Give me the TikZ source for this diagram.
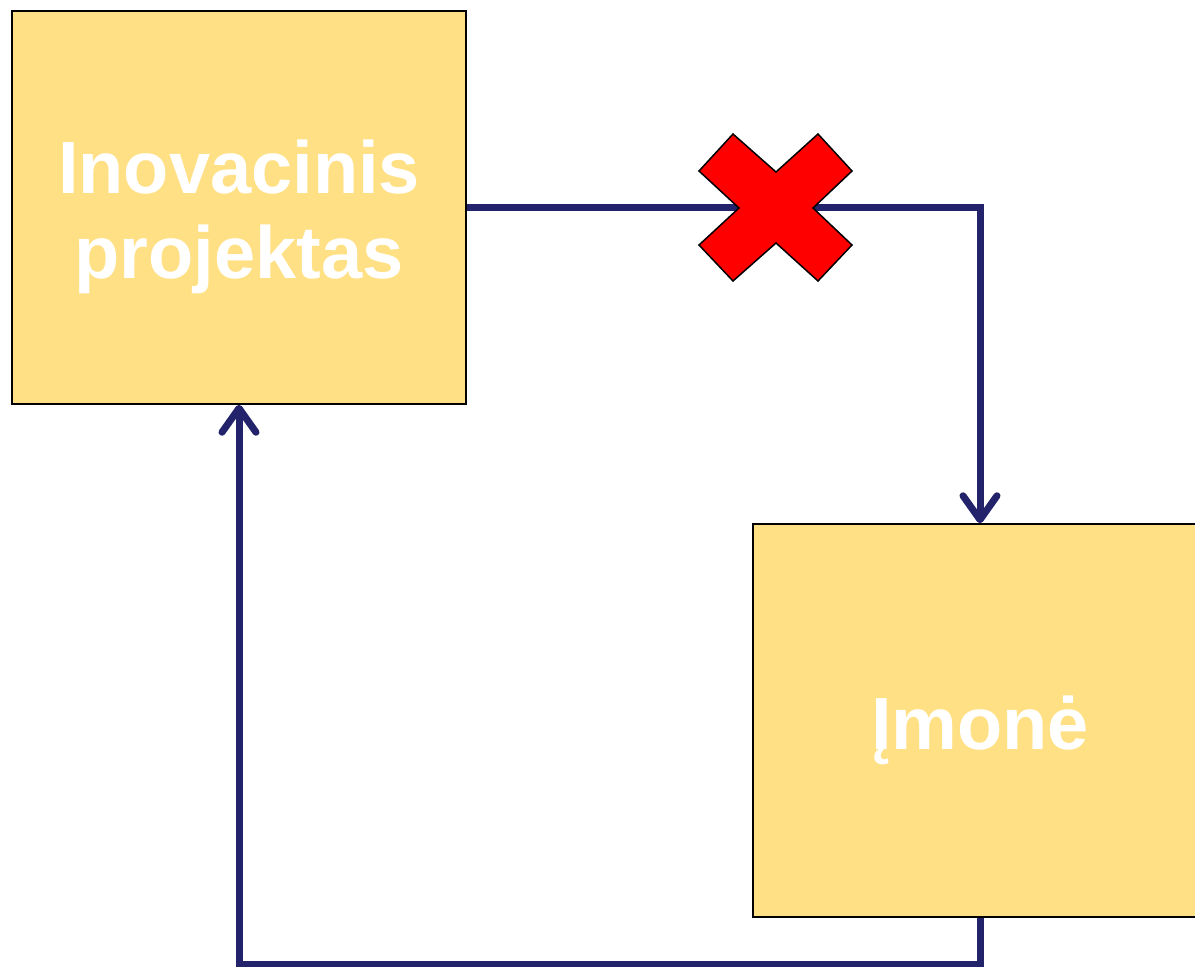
\documentclass[tikz,border=0pt]{standalone}
\usepackage{fontspec}
\setmainfont{Liberation Sans}
\usetikzlibrary{arrows.meta}
\definecolor{boxfill}{HTML}{FFE084}
\definecolor{navy}{HTML}{23236B}
\definecolor{xred}{HTML}{FF0000}
\tikzset{
  bigbox/.style={draw=black, line width=1.5pt, fill=boxfill, minimum width=454pt, minimum height=393pt, inner sep=0pt},
  boxtext/.style={font=\fontsize{74}{85}\selectfont\bfseries, text=white, align=center, inner sep=0pt},
  link/.style={draw=navy, line width=7pt},
  tipped/.style={link, -{Straight Barb[length=24pt,width=34pt,round]}},
  crossmark/.style={fill=xred, draw=black, line width=1.5pt, line join=miter}
}
\begin{document}
\begin{tikzpicture}[x=1pt,y=-1pt]
\useasboundingbox (0,0) rectangle (1195,967);
\node[bigbox, label={[boxtext, yshift=-9pt]center:Inovacinis\\projektas}] (proj) at (239,207.5) {};
\node[bigbox, label={[boxtext, yshift=-10pt]center:Įmonė}] (imone) at (980,720.5) {};
\coordinate (turn) at (imone.north |- proj.east);
\coordinate (low) at (imone.south |- 0,964);
\draw[tipped] (proj.east) -- (turn) -- (imone.north);
\draw[tipped] (imone.south) -- (low) -| (proj.south);
\coordinate (xmark) at (776,208);
\filldraw[crossmark, shift={(xmark)}]
  (-43,-74) -- (0,-36) -- (42,-74) -- (76,-37) -- (37,0) -- (76,37) -- (42,73)
  -- (0,35) -- (-43,73) -- (-77,37) -- (-37,0) -- (-77,-37) -- cycle;
\end{tikzpicture}
\end{document}
